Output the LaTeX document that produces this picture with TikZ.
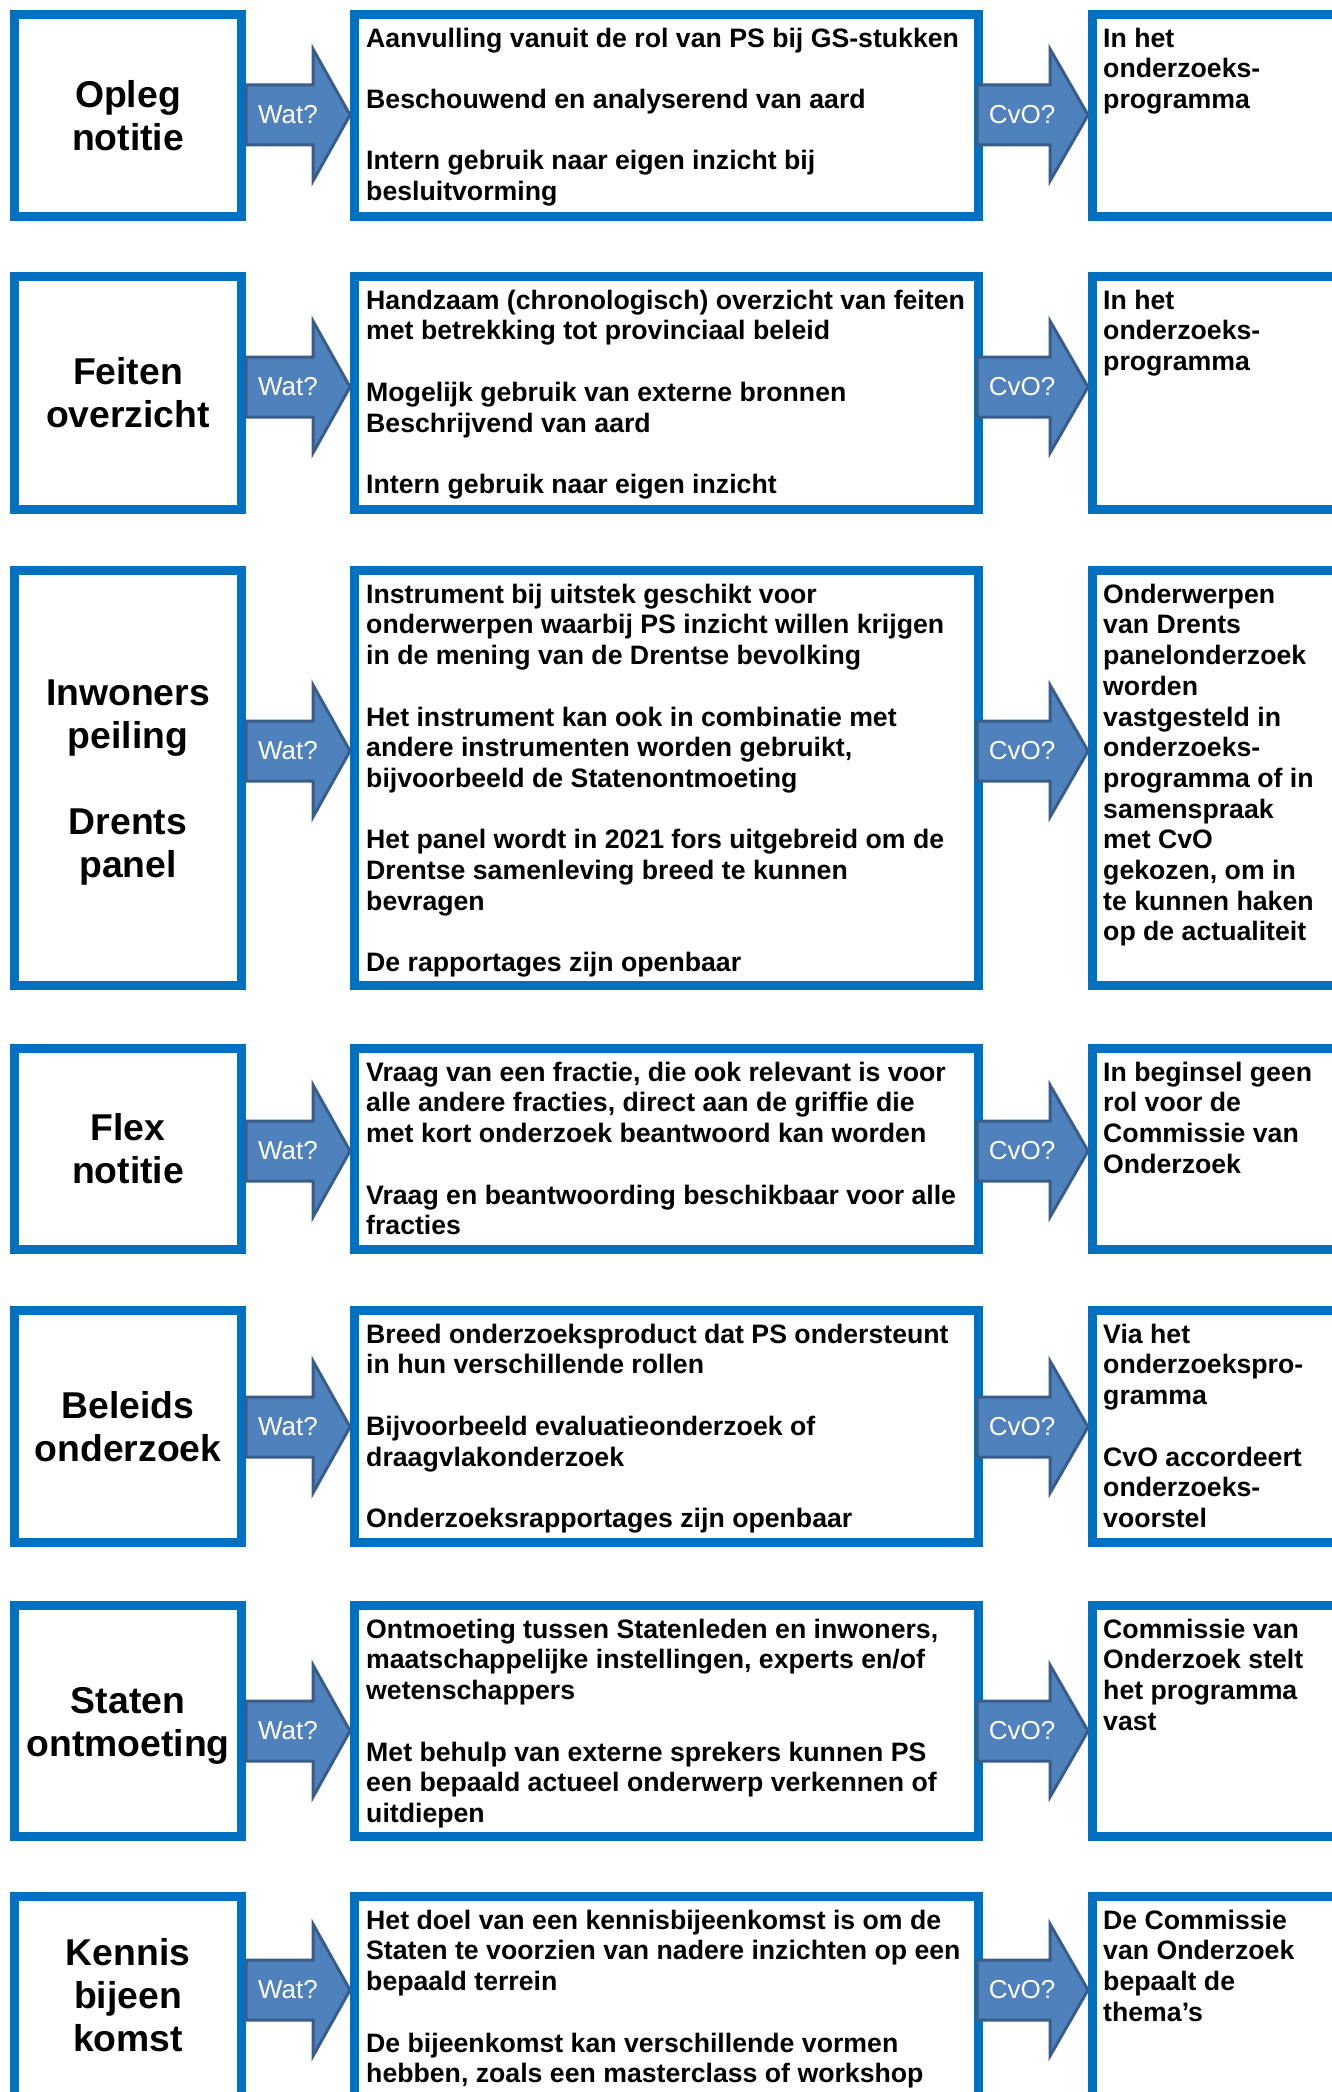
\documentclass[tikz,border=0pt]{standalone}
\usepackage{fontspec}
\setmainfont{Liberation Sans}
\definecolor{boxblue}{HTML}{0070C0}
\definecolor{arrfill}{HTML}{4F81BD}
\definecolor{arrline}{HTML}{385D8A}
\tikzset{
  bx/.style={draw=boxblue, line width=9pt, fill=white, rectangle, inner sep=0pt, outer sep=0pt},
  arr/.style={fill=arrfill, draw=arrline, line width=3pt, line join=miter},
  ttl/.style={font=\bfseries\fontsize{37.33pt}{43pt}\selectfont, align=center, inner sep=0pt},
  bodytxt/.style={font=\bfseries\fontsize{26.67pt}{30.7pt}\selectfont, align=left, inner sep=0pt, anchor=north west},
  arrlbl/.style={font=\fontsize{26pt}{30pt}\selectfont, text=white, inner sep=0pt},
}
\newcommand\myrow[8]{%
  \pgfmathsetmacro\rowc{(#2+#3)/2}%
  \pgfmathsetmacro\rowh{#3-#2-9}%
  \node[bx, minimum width=227pt, minimum height=\rowh pt] (L#1) at (128,\rowc) {};
  \node[bx, minimum width=624pt, minimum height=\rowh pt] (M#1) at (666.5,\rowc) {};
  \node[bx, minimum width=320pt, minimum height=\rowh pt] (R#1) at (1252.5,\rowc) {};
  \node[ttl] (T#1) at (128,\rowc+#8) {#5};
  \node[bodytxt] (MT#1) at (366,#2+13) {\rule{0pt}{24pt}#6};
  \node[bodytxt] (RT#1) at (1103,#2+13) {\rule{0pt}{24pt}#7};
  \draw[arr] (246,#4-30) -- (313,#4-30) -- (313,#4-66) -- (350,#4) -- (313,#4+66) -- (313,#4+30) -- (246,#4+30) -- cycle;
  \node[arrlbl] (W#1) at (288,#4) {Wat?};
  \draw[arr] (977,#4-30) -- (1050,#4-30) -- (1050,#4-66) -- (1088,#4) -- (1050,#4+66) -- (1050,#4+30) -- (977,#4+30) -- cycle;
  \node[arrlbl] (C#1) at (1022,#4) {CvO?};
}
\begin{document}
\begin{tikzpicture}[x=1pt, y=-1pt]
\useasboundingbox (0,0) rectangle (1332,2092);
\fill[white] (0,0) rectangle (1332,2092);
\clip (0,0) rectangle (1332,2092);

\myrow{1}{10}{221}{115}{Opleg\\notitie}
{Aanvulling vanuit de rol van PS bij GS-stukken\\[30.7pt]
Beschouwend en analyserend van aard\\[30.7pt]
Intern gebruik naar eigen inzicht bij\\
besluitvorming}
{In het\\onderzoeks-\\programma}{0}

\myrow{2}{272}{514}{387}{Feiten\\overzicht}
{Handzaam (chronologisch) overzicht van feiten\\
met betrekking tot provinciaal beleid\\[30.7pt]
Mogelijk gebruik van externe bronnen\\
Beschrijvend van aard\\[30.7pt]
Intern gebruik naar eigen inzicht}
{In het\\onderzoeks-\\programma}{0}

\myrow{3}{566}{990}{751}{Inwoners\\peiling\\[43pt]Drents\\panel}
{Instrument bij uitstek geschikt voor\\
onderwerpen waarbij PS inzicht willen krijgen\\
in de mening van de Drentse bevolking\\[30.7pt]
Het instrument kan ook in combinatie met\\
andere instrumenten worden gebruikt,\\
bijvoorbeeld de Statenontmoeting\\[30.7pt]
Het panel wordt in 2021 fors uitgebreid om de\\
Drentse samenleving breed te kunnen\\
bevragen\\[30.7pt]
De rapportages zijn openbaar}
{Onderwerpen\\van Drents\\panelonderzoek\\worden\\vastgesteld in\\onderzoeks-\\programma of in\\samenspraak\\met CvO\\gekozen, om in\\te kunnen haken\\op de actualiteit}{5}

\myrow{4}{1044}{1254}{1151}{Flex\\notitie}
{Vraag van een fractie, die ook relevant is voor\\
alle andere fracties, direct aan de griffie die\\
met kort onderzoek beantwoord kan worden\\[30.7pt]
Vraag en beantwoording beschikbaar voor alle\\
fracties}
{In beginsel geen\\rol voor de\\Commissie van\\Onderzoek}{0}

\myrow{5}{1306}{1547}{1427}{Beleids\\onderzoek}
{Breed onderzoeksproduct dat PS ondersteunt\\
in hun verschillende rollen\\[30.7pt]
Bijvoorbeeld evaluatieonderzoek of\\
draagvlakonderzoek\\[30.7pt]
Onderzoeksrapportages zijn openbaar}
{Via het\\onderzoekspro-\\gramma\\[30.7pt]CvO accordeert\\onderzoeks-\\voorstel}{0}

\myrow{6}{1601}{1841}{1731}{Staten\\ontmoeting}
{Ontmoeting tussen Statenleden en inwoners,\\
maatschappelijke instellingen, experts en/of\\
wetenschappers\\[30.7pt]
Met behulp van externe sprekers kunnen PS\\
een bepaald actueel onderwerp verkennen of\\
uitdiepen}
{Commissie van\\Onderzoek stelt\\het programma\\vast}{5}

\myrow{7}{1892}{2104}{1990}{Kennis\\bijeen\\komst}
{Het doel van een kennisbijeenkomst is om de\\
Staten te voorzien van nadere inzichten op een\\
bepaald terrein\\[30.7pt]
De bijeenkomst kan verschillende vormen\\
hebben, zoals een masterclass of workshop}
{De Commissie\\van Onderzoek\\bepaalt de\\thema’s}{-3}
\end{tikzpicture}
\end{document}
